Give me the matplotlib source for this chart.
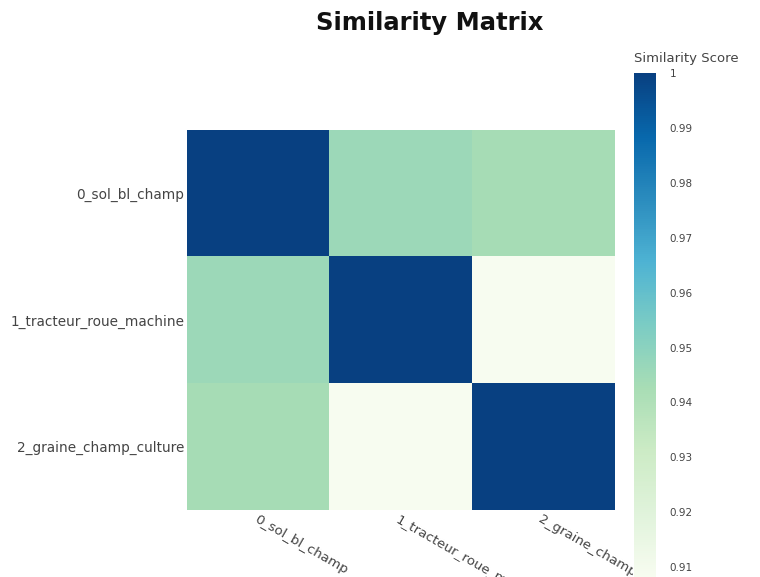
import numpy as np
import matplotlib
matplotlib.use('Agg')
import matplotlib.pyplot as plt
from matplotlib.transforms import Bbox, TransformedBbox

plt.rcParams['font.family'] = ['DejaVu Sans']

labels = ['0_sol_bl_champ', '1_tracteur_roue_machine', '2_graine_champ_culture']
# similarity scores (symmetric)
scores = np.array([
    [1.000, 0.9458, 0.9430],
    [0.9458, 1.000, 0.9082],
    [0.9430, 0.9082, 1.000],
])
cbar_ticks = [0.91, 0.92, 0.93, 0.94, 0.95, 0.96, 0.97, 0.98, 0.99, 1.0]
cbar_ticklabels = ['0.91', '0.92', '0.93', '0.94', '0.95', '0.96', '0.97', '0.98', '0.99', '1']

fig = plt.figure(figsize=(7.6, 5.77), dpi=100)
ax = fig.add_axes([0.246, 0.116, 0.562, 0.659])
cax = fig.add_axes([0.834, 0.0, 0.029, 0.8735])

vmin, vmax = scores.min(), scores.max()
im = ax.imshow(scores, cmap='GnBu', vmin=vmin, vmax=vmax, aspect='auto')

ax.set_xticks(range(len(labels)))
ax.set_yticks(range(len(labels)))
ax.set_xticklabels(labels, rotation=-30, ha='left', va='top',
                   rotation_mode='anchor', fontsize=9.6, color='#444444')
ax.set_yticklabels(labels, fontsize=9.8, color='#444444')
ax.tick_params(length=0, pad=2)
for s in ax.spines.values():
    s.set_visible(False)

# x labels get hidden behind the colour bar, like in the original
clip = TransformedBbox(Bbox([[0, 0], [633 / 760, 1]]), fig.transFigure)
for t in ax.get_xticklabels():
    t.set_clip_on(True)
    t.set_clip_box(clip)

cb = fig.colorbar(im, cax=cax)
cb.set_ticks(cbar_ticks)
cb.set_ticklabels(cbar_ticklabels)
cb.outline.set_visible(False)
cax.tick_params(length=0, pad=10, labelsize=7.5, labelcolor='#444444')
fig.text(0.834, 0.888, 'Similarity Score', fontsize=9.5, color='#444444',
         ha='left', va='bottom')

fig.text(0.566, 0.96, 'Similarity Matrix', fontsize=17.5, fontweight='bold',
         ha='center', va='center', color='#111111')

fig.savefig('out.png', dpi=100)
